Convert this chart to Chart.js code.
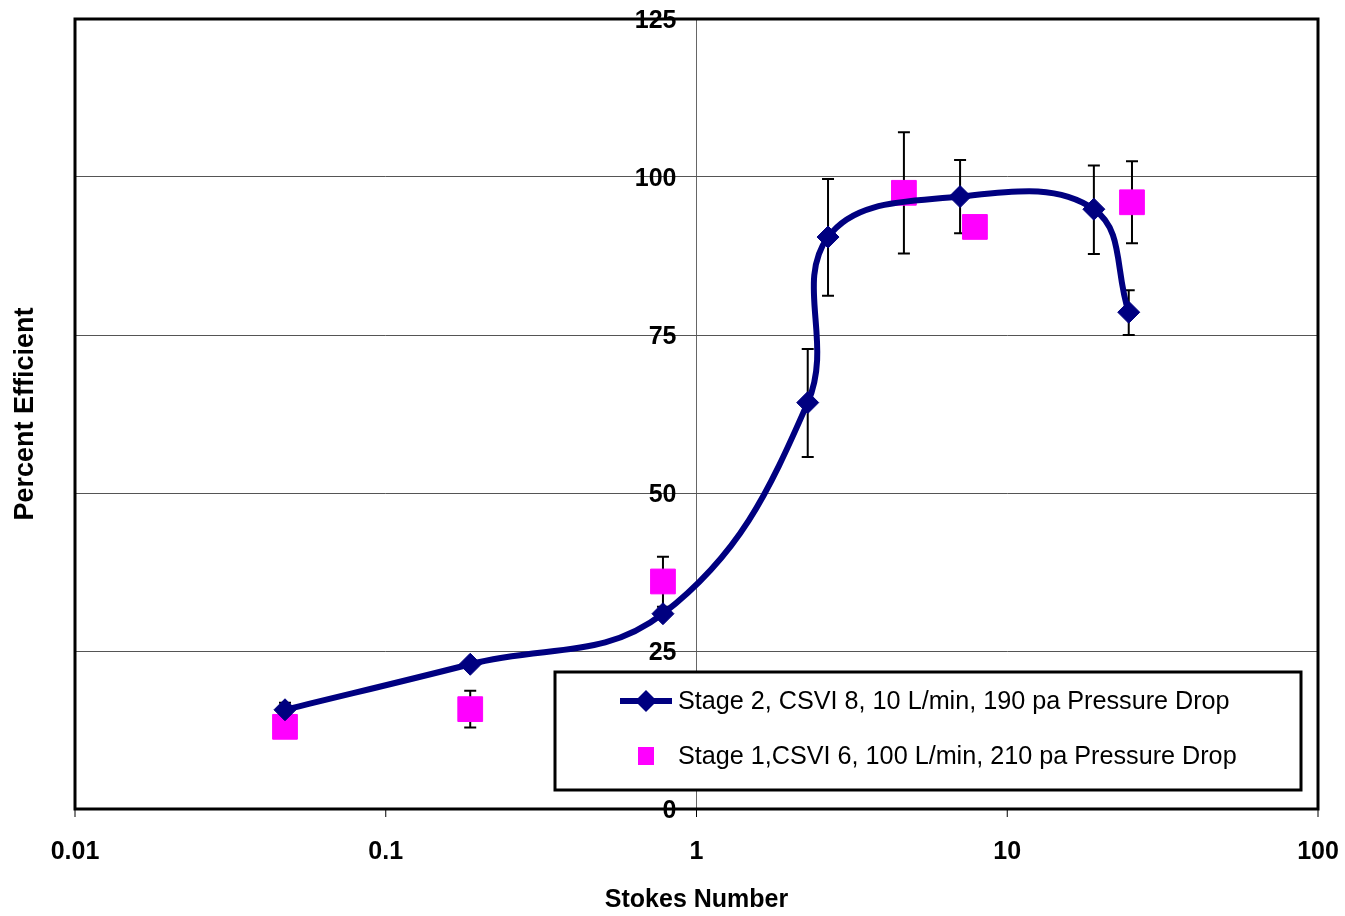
<!DOCTYPE html>
<html>
<head>
<meta charset="utf-8">
<title>Stokes number efficiency</title>
<script src="https://cdn.jsdelivr.net/npm/chart.js@4/dist/chart.umd.min.js"></script>
<style>
  html, body { margin: 0; background: #fff; }
  #wrap { width: 1345px; height: 916px; position: relative; }
</style>
</head>
<body>
<div id="wrap"><canvas id="chart"></canvas></div>
<script>
"use strict";

// Stage 2, CSVI 8 (smoothed line with diamonds)
const stage2X = [0.0474, 0.187, 0.78, 2.28, 2.65, 7.05, 19.0, 24.6];
const stage2Y = [15.7, 22.9, 30.9, 64.3, 90.5, 96.9, 94.9, 78.6];
const stage2Hi = [16.8, null, null, 72.8, 99.7, 102.7, 101.8, 82.1];
const stage2Lo = [14.6, null, null, 55.7, 81.2, 91.1, 87.8, 75.0];

// Stage 1, CSVI 6 (magenta squares)
const stage1X = [0.0474, 0.187, 0.78, 4.65, 7.87, 25.2];
const stage1Y = [13.0, 15.8, 36.0, 97.5, 92.1, 96.0];
const stage1Hi = [null, 18.7, 39.9, 107.1, null, 102.5];
const stage1Lo = [9.3, 12.9, 32.0, 87.9, null, 89.5];

const xTicks = [0.01, 0.1, 1, 10, 100];
const xTickLabels = ["0.01", "0.1", "1", "10", "100"];
const yTicks = [0, 25, 50, 75, 100, 125];

const seriesNames = [
  "Stage 2, CSVI 8, 10 L/min, 190 pa Pressure Drop",
  "Stage 1,CSVI 6, 100 L/min, 210 pa Pressure Drop",
];

const FONT = '"Liberation Sans", Arial, sans-serif';
const NAVY = "#000080";
const MAGENTA = "#ff00ff";

const pts = (xs, ys) => xs.map((x, i) => ({ x, y: ys[i] }));

function errorBars(chart, xs, his, los) {
  const { ctx, scales } = chart;
  ctx.save();
  ctx.strokeStyle = "#000";
  ctx.lineWidth = 2;
  xs.forEach((x, i) => {
    if (his[i] == null || los[i] == null) return;
    const px = scales.x.getPixelForValue(x);
    const top = scales.y.getPixelForValue(his[i]);
    const bot = scales.y.getPixelForValue(los[i]);
    ctx.beginPath();
    ctx.moveTo(px, top); ctx.lineTo(px, bot);
    ctx.moveTo(px - 6, top); ctx.lineTo(px + 6, top);
    ctx.moveTo(px - 6, bot); ctx.lineTo(px + 6, bot);
    ctx.stroke();
  });
  ctx.restore();
}

const decorations = {
  id: "decorations",
  beforeDatasetsDraw(chart) {
    errorBars(chart, stage1X, stage1Hi, stage1Lo);
    errorBars(chart, stage2X, stage2Hi, stage2Lo);
  },
  afterDraw(chart) {
    const { ctx, chartArea: a, scales } = chart;
    const x1 = scales.x.getPixelForValue(1);
    ctx.save();

    // plot frame
    ctx.strokeStyle = "#000";
    ctx.lineWidth = 3;
    ctx.strokeRect(a.left, a.top, a.right - a.left, a.bottom - a.top);

    // x tick marks + labels
    ctx.lineWidth = 1;
    ctx.strokeStyle = "#000";
    ctx.fillStyle = "#000";
    ctx.font = "bold 25px " + FONT;
    ctx.textAlign = "center";
    ctx.textBaseline = "middle";
    xTicks.forEach((v, i) => {
      const px = scales.x.getPixelForValue(v);
      ctx.beginPath();
      ctx.moveTo(px, a.bottom);
      ctx.lineTo(px, a.bottom + 8);
      ctx.stroke();
      ctx.fillText(xTickLabels[i], px, 852);
    });

    // y labels sitting beside the x = 1 axis
    ctx.textAlign = "right";
    yTicks.forEach((v) => {
      ctx.fillText(String(v), x1 - 20, scales.y.getPixelForValue(v) + 2);
    });

    // axis titles
    ctx.textAlign = "center";
    ctx.fillText("Stokes Number", (a.left + a.right) / 2, 900);
    ctx.save();
    ctx.translate(26, 414);
    ctx.rotate(-Math.PI / 2);
    ctx.font = "bold 27px " + FONT;
    ctx.fillText("Percent Efficient", 0, 0);
    ctx.restore();

    // legend box
    ctx.fillStyle = "#fff";
    ctx.fillRect(555, 672, 746, 118);
    ctx.lineWidth = 3;
    ctx.strokeStyle = "#000";
    ctx.strokeRect(555, 672, 746, 118);

    ctx.strokeStyle = NAVY;
    ctx.lineWidth = 6;
    ctx.beginPath();
    ctx.moveTo(620, 701); ctx.lineTo(672, 701);
    ctx.stroke();
    ctx.fillStyle = NAVY;
    ctx.beginPath();
    ctx.moveTo(646, 690); ctx.lineTo(657, 701); ctx.lineTo(646, 712); ctx.lineTo(635, 701);
    ctx.closePath();
    ctx.fill();

    ctx.fillStyle = MAGENTA;
    ctx.fillRect(638, 747, 16, 18);

    ctx.fillStyle = "#000";
    ctx.font = "25.2px " + FONT;
    ctx.textAlign = "left";
    ctx.fillText(seriesNames[0], 678, 702);
    ctx.fillText(seriesNames[1], 678, 757);
    ctx.restore();
  },
};

new Chart(document.getElementById("chart"), {
  type: "scatter",
  data: {
    datasets: [
      {
        label: seriesNames[0],
        data: pts(stage2X, stage2Y),
        showLine: true,
        borderColor: NAVY,
        backgroundColor: NAVY,
        borderWidth: 6,
        tension: 0.4,
        pointStyle: "rectRot",
        pointRadius: 11,
        pointBorderWidth: 1,
      },
      {
        label: seriesNames[1],
        data: pts(stage1X, stage1Y),
        showLine: false,
        borderColor: MAGENTA,
        backgroundColor: MAGENTA,
        pointStyle: "rect",
        pointRadius: 17.5,
        pointBorderWidth: 1,
      },
    ],
  },
  options: {
    responsive: true,
    maintainAspectRatio: false,
    animation: false,
    layout: { padding: { left: 75, right: 27, top: 19, bottom: 107 } },
    plugins: { legend: { display: false }, tooltip: { enabled: false } },
    scales: {
      x: {
        type: "logarithmic",
        min: 0.01,
        max: 100,
        ticks: { display: false },
        border: { display: false },
        grid: {
          drawTicks: false,
          color: (c) => (c.tick && c.tick.value === 1 ? "#666" : "rgba(0,0,0,0)"),
        },
        afterFit: (s) => { s.height = 0; },
      },
      y: {
        min: 0,
        max: 125,
        ticks: { display: false, stepSize: 25 },
        border: { display: false },
        grid: { drawTicks: false, color: "#555" },
        afterFit: (s) => { s.width = 0; },
      },
    },
  },
  plugins: [decorations],
});
</script>
</body>
</html>
